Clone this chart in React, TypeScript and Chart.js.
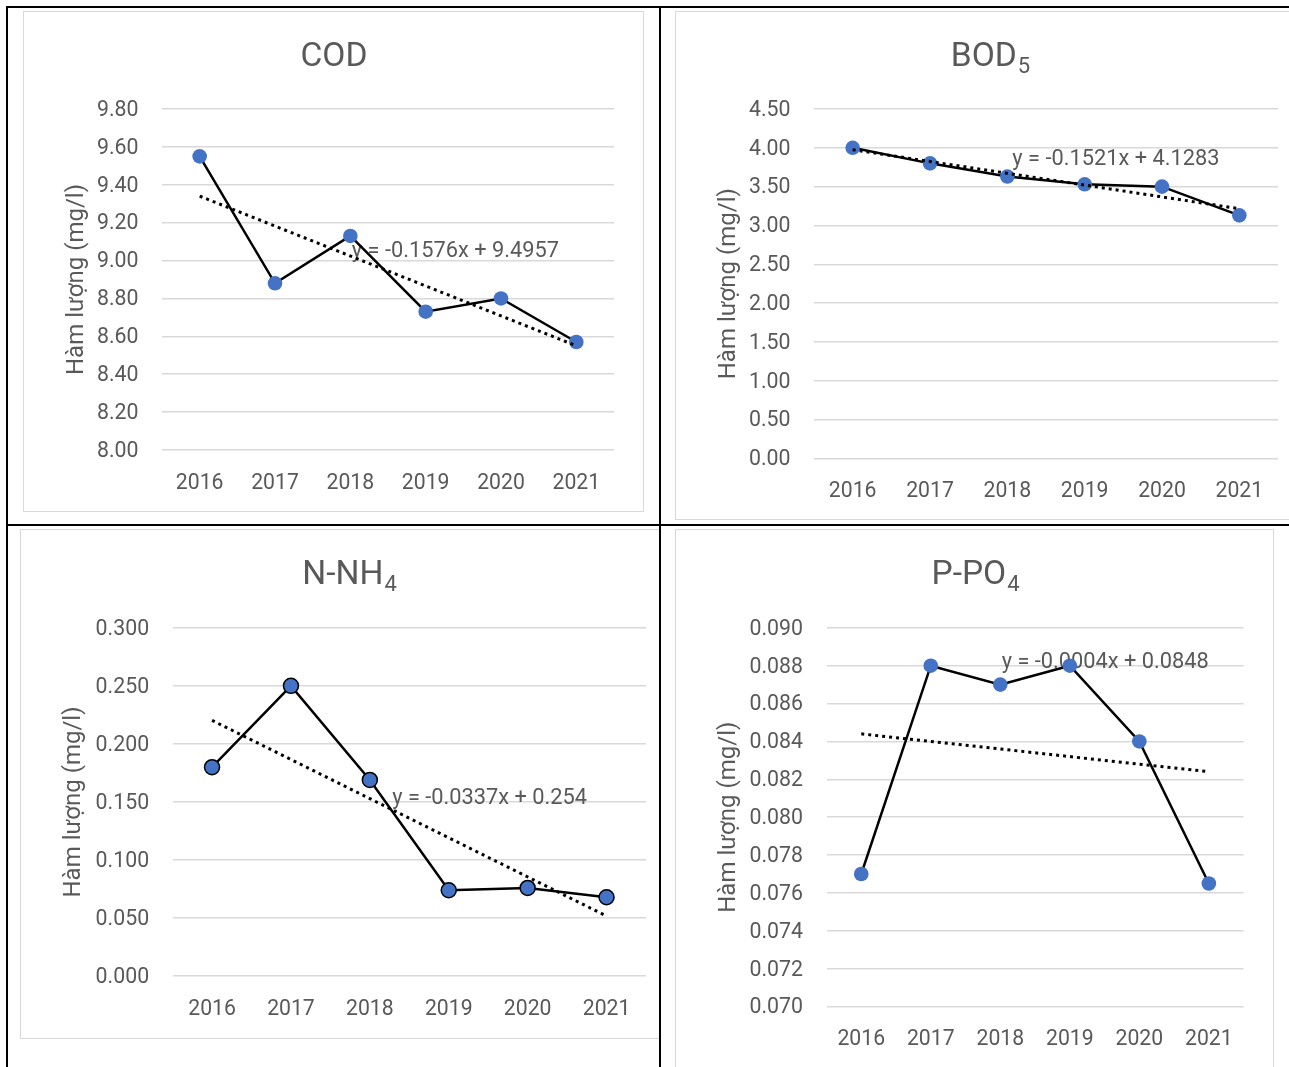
import React, { useEffect, useRef } from "react";
import { Chart, registerables } from "chart.js";

Chart.register(...registerables);

// ---------------- data ----------------
const YEARS = ["2016", "2017", "2018", "2019", "2020", "2021"];

const COD_VALUES = [9.55, 8.88, 9.13, 8.73, 8.8, 8.57];
const COD_TREND = [9.34, null, null, null, null, 8.55];
const COD_AXIS = [8.0, 9.8, 0.2];
const COD_EQUATION = "y = -0.1576x + 9.4957";
const COD_EQ_AT = [2.02, 9.045];

const BOD_VALUES = [4.0, 3.8, 3.63, 3.53, 3.5, 3.13];
const BOD_TREND = [3.976, null, null, null, null, 3.216];
const BOD_AXIS = [0, 4.5, 0.5];
const BOD_EQUATION = "y = -0.1521x + 4.1283";
const BOD_EQ_AT = [2.065, 3.85];

const NH4_VALUES = [0.18, 0.25, 0.169, 0.074, 0.076, 0.068];
const NH4_TREND = [0.2203, null, null, null, null, 0.0518];
const NH4_AXIS = [0, 0.3, 0.05];
const NH4_EQUATION = "y = -0.0337x + 0.254";
const NH4_EQ_AT = [2.283, 0.153];

const PO4_VALUES = [0.077, 0.088, 0.087, 0.088, 0.084, 0.0765];
const PO4_TREND = [0.0844, null, null, null, null, 0.0824];
const PO4_AXIS = [0.07, 0.09, 0.002];
const PO4_EQUATION = "y = -0.0004x + 0.0848";
const PO4_EQ_AT = [2.02, 0.08818];

const Y_TITLE = "Hàm lượng (mg/l)";

// ---------------- styling / layout ----------------
const GREY = "#595959";
const GRID = "#d9d9d9";
const BLUE = "#4472C4";
const FONT = "Roboto";

type Spec = {
  title: [string, string];
  values: number[];
  trend: (number | null)[];
  axis: number[];
  decimals: number;
  equation: string;
  eqAt: number[];
  markerBorder: boolean;
  cell: { l: number; t: number; w: number; h: number };
  box: { l: number; t: number; w: number; h: number };
  titleX: number;
  yW: number;
  padR: number;
  padT: number;
  xH: number;
};

const SPECS: Spec[] = [
  {
    title: ["COD", ""],
    values: COD_VALUES,
    trend: COD_TREND,
    axis: COD_AXIS,
    decimals: 2,
    equation: COD_EQUATION,
    eqAt: COD_EQ_AT,
    markerBorder: false,
    cell: { l: 8, t: 8, w: 651, h: 516 },
    box: { l: 23, t: 11, w: 621, h: 501 },
    titleX: 311,
    yW: 139,
    padR: 30,
    padT: 98,
    xH: 62,
  },
  {
    title: ["BOD", "5"],
    values: BOD_VALUES,
    trend: BOD_TREND,
    axis: BOD_AXIS,
    decimals: 2,
    equation: BOD_EQUATION,
    eqAt: BOD_EQ_AT,
    markerBorder: false,
    cell: { l: 661, t: 8, w: 628, h: 516 },
    box: { l: 675, t: 11, w: 618, h: 509 },
    titleX: 315,
    yW: 139,
    padR: 15,
    padT: 98,
    xH: 61.6,
  },
  {
    title: ["N-NH", "4"],
    values: NH4_VALUES,
    trend: NH4_TREND,
    axis: NH4_AXIS,
    decimals: 3,
    equation: NH4_EQUATION,
    eqAt: NH4_EQ_AT,
    markerBorder: true,
    cell: { l: 8, t: 526, w: 651, h: 541 },
    box: { l: 20, t: 529, w: 658, h: 510 },
    titleX: 329,
    yW: 152.6,
    padR: 32,
    padT: 98.8,
    xH: 62.8,
  },
  {
    title: ["P-PO", "4"],
    values: PO4_VALUES,
    trend: PO4_TREND,
    axis: PO4_AXIS,
    decimals: 3,
    equation: PO4_EQUATION,
    eqAt: PO4_EQ_AT,
    markerBorder: false,
    cell: { l: 661, t: 526, w: 628, h: 541 },
    box: { l: 675, t: 529, w: 599, h: 545 },
    titleX: 300,
    yW: 151.5,
    padR: 30.4,
    padT: 98.8,
    xH: 67.4,
  },
];

const textPlugin = {
  id: "panelText",
  beforeDatasetsDraw(chart: any, _args: any, opts: any) {
    const { ctx, scales } = chart;
    ctx.save();
    ctx.font = `21.8px ${FONT}`;
    ctx.fillStyle = GREY;
    ctx.textAlign = "left";
    ctx.textBaseline = "middle";
    ctx.fillText(
      opts.equation,
      scales.x.getPixelForValue(opts.eqAt[0]),
      scales.y.getPixelForValue(opts.eqAt[1])
    );
    ctx.restore();
  },
  afterDraw(chart: any, _args: any, opts: any) {
    const { ctx, chartArea } = chart;
    ctx.save();
    ctx.fillStyle = GREY;
    // title with optional subscript
    const mainFont = `33.6px ${FONT}`;
    const subFont = `22px ${FONT}`;
    ctx.font = mainFont;
    const wMain = ctx.measureText(opts.title[0]).width;
    ctx.font = subFont;
    const wSub = opts.title[1] ? ctx.measureText(opts.title[1]).width : 0;
    const x0 = opts.titleX - (wMain + wSub) / 2;
    const baseY = 54.5;
    ctx.textAlign = "left";
    ctx.textBaseline = "alphabetic";
    ctx.font = mainFont;
    ctx.fillText(opts.title[0], x0, baseY);
    if (opts.title[1]) {
      ctx.font = subFont;
      ctx.fillText(opts.title[1], x0 + wMain + 1, baseY + 7);
    }
    // y axis title
    ctx.font = `24px ${FONT}`;
    ctx.translate(60, (chartArea.top + chartArea.bottom) / 2);
    ctx.rotate(-Math.PI / 2);
    ctx.textAlign = "center";
    ctx.fillText(Y_TITLE, 0, 0);
    ctx.restore();
  },
};

function Panel({ spec }: { spec: Spec }) {
  const ref = useRef<HTMLCanvasElement>(null);
  useEffect(() => {
    const [min, max, step] = spec.axis;
    const chart = new Chart(ref.current as HTMLCanvasElement, {
      type: "line",
      data: {
        labels: YEARS,
        datasets: [
          {
            label: "trend",
            data: spec.trend,
            borderColor: "#000",
            borderWidth: 3,
            borderDash: [3, 4],
            pointRadius: 0,
            spanGaps: true,
            fill: false,
          } as any,
          {
            label: "series",
            data: spec.values,
            borderColor: "#000",
            borderWidth: 2.5,
            pointRadius: spec.markerBorder ? 7.5 : 7.3,
            pointBackgroundColor: BLUE,
            pointBorderColor: "#000",
            pointBorderWidth: spec.markerBorder ? 1.5 : 0,
            tension: 0,
            fill: false,
          },
        ],
      },
      options: {
        responsive: false,
        animation: false,
        events: [],
        layout: { padding: { left: 0, right: spec.padR, top: spec.padT, bottom: 0 } },
        plugins: {
          legend: { display: false },
          tooltip: { enabled: false },
          title: { display: false },
          panelText: {
            title: spec.title,
            titleX: spec.titleX,
            equation: spec.equation,
            eqAt: spec.eqAt,
          },
        } as any,
        scales: {
          x: {
            type: "category",
            offset: true,
            grid: { display: false },
            border: { display: false },
            ticks: {
              color: GREY,
              font: { family: FONT, size: 21.2 },
              padding: 12.5,
              maxRotation: 0,
              autoSkip: false,
            },
            afterFit: (s: any) => {
              s.height = spec.xH;
            },
          },
          y: {
            min,
            max,
            grid: { color: GRID, lineWidth: 1.5, drawTicks: false },
            border: { display: false },
            ticks: {
              stepSize: step,
              color: GREY,
              font: { family: FONT, size: 21.3 },
              padding: 23.5,
              labelOffset: 1.5,
              callback: (v: any) => Number(v).toFixed(spec.decimals),
            },
            afterFit: (s: any) => {
              s.width = spec.yW;
            },
          },
        },
      },
      plugins: [textPlugin as any],
    });
    return () => chart.destroy();
  }, [spec]);

  const { cell, box } = spec;
  return (
    <div
      style={{
        position: "absolute",
        left: cell.l,
        top: cell.t,
        width: cell.w,
        height: cell.h,
        overflow: "hidden",
      }}
    >
      <canvas
        ref={ref}
        width={box.w}
        height={box.h}
        style={{ position: "absolute", left: box.l - cell.l, top: box.t - cell.t, width: box.w, height: box.h }}
      />
      <div
        style={{
          position: "absolute",
          left: box.l - cell.l,
          top: box.t - cell.t,
          width: box.w,
          height: box.h,
          border: "1.5px solid #d9d9d9",
          boxSizing: "border-box",
          pointerEvents: "none",
        }}
      />
    </div>
  );
}

const LINE = "#000";

export default function App() {
  return (
    <div
      style={{
        position: "absolute",
        left: 0,
        top: 0,
        width: 1289,
        height: 1067,
        background: "#fff",
        overflow: "hidden",
        fontFamily: FONT,
      }}
    >
      {SPECS.map((s, i) => (
        <Panel key={i} spec={s} />
      ))}
      <div style={{ position: "absolute", left: 6, top: 6, width: 1283, height: 2, background: LINE }} />
      <div style={{ position: "absolute", left: 6, top: 524, width: 1283, height: 2, background: LINE }} />
      <div style={{ position: "absolute", left: 6, top: 6, width: 2, height: 1061, background: LINE }} />
      <div style={{ position: "absolute", left: 659, top: 6, width: 2, height: 1061, background: LINE }} />
    </div>
  );
}
